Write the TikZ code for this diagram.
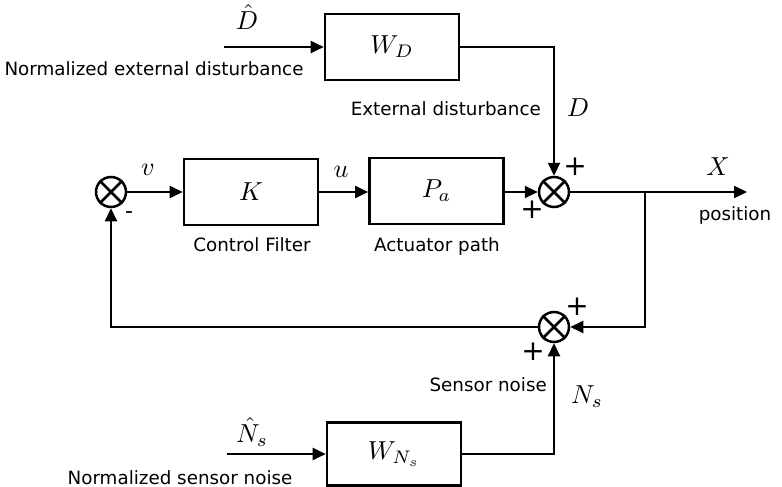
\documentclass[tikz,border=0pt]{standalone}
\usepackage{fontspec}
\setmainfont{DejaVu Sans}
\usetikzlibrary{arrows.meta}
\newcommand\mlab[1]{\scalebox{2.6}{\normalsize$#1$}}
\begin{document}
\begin{tikzpicture}[x=1pt,y=-1pt,
  font=\fontsize{18.3}{22}\selectfont,
  blk/.style={draw,line width=2.6pt,minimum width=134pt,minimum height=66pt,inner sep=0pt},
  sumnode/.style={draw,circle,line width=2.5pt,minimum size=30pt,inner sep=0pt},
  wire/.style={line width=2.2pt},
  arr/.style={wire,-{Triangle[length=13pt,width=12pt]}},
  lbl/.style={inner sep=0pt},
  txt/.style={inner sep=0pt,anchor=base},
  sgn/.style={inner sep=0pt,font=\fontsize{28}{30}\selectfont}]
\useasboundingbox (0,0) rectangle (782,487);
% blocks
\node[blk] (WD) at (392,47) {\mlab{W_D}};
\node[blk] (K) at (251,192) {\mlab{K}};
\node[blk] (Pa) at (436.5,191) {\mlab{P_a}};
\node[blk,minimum height=63pt] (WN) at (394,454) {\mlab{W_{N_s}}};
% summing junctions
\node[sumnode] (S0) at (111,192) {};
\node[sumnode] (S1) at (554,192) {};
\node[sumnode] (S2) at (554,327) {};
\foreach \s in {S0,S1,S2}{
  \draw[line width=2.5pt] (\s.north east) -- (\s.south west);
  \draw[line width=2.5pt] (\s.north west) -- (\s.south east);
}
% coordinates
\coordinate (din) at (224,47);
\coordinate (dcorner) at (554,47);
\coordinate (branch) at (645,192);
\coordinate (bcorner) at (645,327);
\coordinate (xout) at (747,192);
\coordinate (fcorner) at (111,327);
\coordinate (nin) at (227,454);
\coordinate (ncorner) at (554,454);
% connectors
\draw[arr] (din) -- (WD.west);
\draw[arr] (WD.east) -- (dcorner) -- (S1.north);
\draw[arr] (S0.east) -- (K.west);
\draw[arr] (K.east) -- (Pa.west |- K.east);
\draw[arr] (Pa.east |- S1.west) -- (S1.west);
\draw[arr] (S1.east) -- (xout);
\draw[arr] (branch) -- (bcorner) -- (S2.east);
\draw[arr] (S2.west) -- (fcorner) -- (S0.south);
\draw[arr] (nin) -- (WN.west |- nin);
\draw[arr] (WN.east |- ncorner) -- (ncorner) -- (S2.south);
% labels
\node[lbl] (lDh) at (247,17) {\mlab{\hat{D}}};
\node[txt] (lNed) at (154,75) {Normalized external disturbance};
\node[txt,anchor=base east] (lEd) at (541,115) {External disturbance};
\node[lbl] (lD) at (578,108) {\mlab{D}};
\node[lbl] (lv) at (148,170) {\mlab{v}};
\node[lbl] (lu) at (341,172) {\mlab{u}};
\node[lbl,font=\fontsize{22}{24}\selectfont] (lminus) at (129,215) {-};
\node[txt] (lCF) at (252,251) {Control Filter};
\node[txt] (lAP) at (437,251) {Actuator path};
\node[sgn] (p1) at (532,210) {+};
\node[sgn] (p2) at (575,167) {+};
\node[lbl] (lX) at (718,167) {\mlab{X}};
\node[txt] (lpos) at (735,220) {position};
\node[sgn] (p3) at (577,307) {+};
\node[sgn] (p4) at (533,352) {+};
\node[txt,anchor=base east] (lSn) at (547,391) {Sensor noise};
\node[lbl] (lNs) at (587,397) {\mlab{N_s}};
\node[lbl] (lNh) at (252,432) {\mlab{\hat{N}_s}};
\node[txt] (lNsn) at (180,484) {Normalized sensor noise};
\end{tikzpicture}
\end{document}
